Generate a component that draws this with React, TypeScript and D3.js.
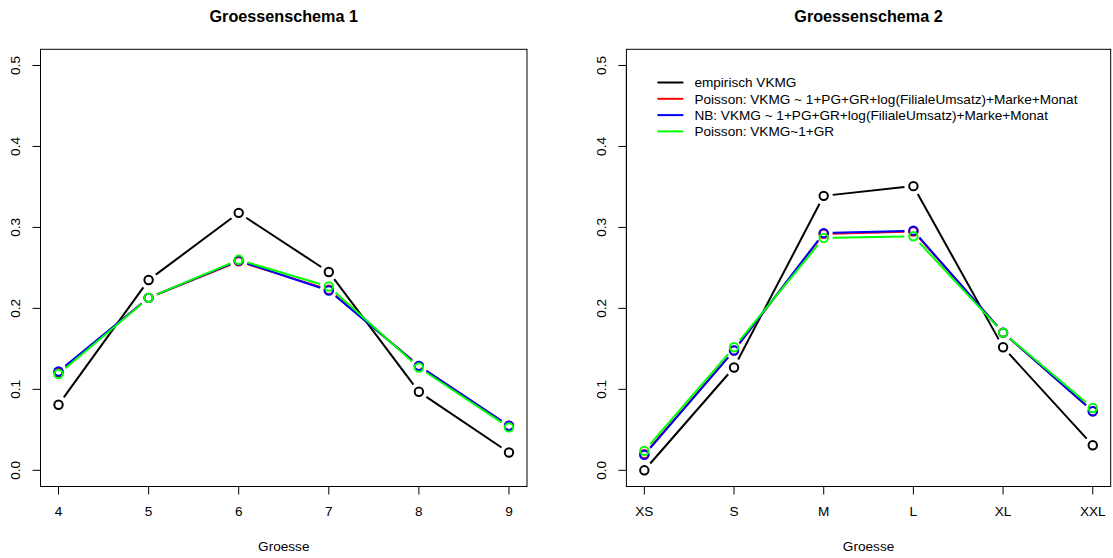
import { useEffect, useRef } from 'react';
import * as d3 from 'd3';

// Groessenschema 1
const sizes1 = ['4', '5', '6', '7', '8', '9'];
const empirisch1 = [0.081, 0.235, 0.318, 0.245, 0.097, 0.022];
const poisson1 = [0.121, 0.213, 0.258, 0.223, 0.129, 0.055];
const nb1 = [0.122, 0.213, 0.259, 0.222, 0.129, 0.055];
const poissonGR1 = [0.119, 0.213, 0.260, 0.227, 0.127, 0.053];

// Groessenschema 2
const sizes2 = ['XS', 'S', 'M', 'L', 'XL', 'XXL'];
const empirisch2 = [0.0, 0.127, 0.339, 0.351, 0.152, 0.031];
const poisson2 = [0.020, 0.148, 0.292, 0.295, 0.170, 0.073];
const nb2 = [0.019, 0.148, 0.293, 0.296, 0.170, 0.073];
const poissonGR2 = [0.024, 0.152, 0.287, 0.289, 0.170, 0.077];

const seriesNames = [
  'empirisch VKMG',
  'Poisson: VKMG ~ 1+PG+GR+log(FilialeUmsatz)+Marke+Monat',
  'NB: VKMG ~ 1+PG+GR+log(FilialeUmsatz)+Marke+Monat',
  'Poisson: VKMG~1+GR',
];
const seriesColors = ['#000000', '#ff0000', '#0000ff', '#00ff00'];
const yTicks = [0, 0.1, 0.2, 0.3, 0.4, 0.5];

const W = 1113, H = 558;
const FONT = '"Liberation Sans", Arial, Helvetica, sans-serif';
const FS = 13.6;

function drawPanel(svg, opts) {
  const { title, cats, series, left, right, legend } = opts;
  const top = 49.3, bottom = 486.5;
  const n = cats.length;

  const x = d3.scaleLinear().domain([1 - 0.2, n + 0.2]).range([left, right]);
  const y = d3.scaleLinear().domain([-0.02, 0.52]).range([bottom, top]);

  const g = svg.append('g');

  g.append('text')
    .attr('x', (left + right) / 2)
    .attr('y', 21.7)
    .attr('text-anchor', 'middle')
    .attr('font-family', FONT)
    .attr('font-weight', 'bold')
    .attr('font-size', 16.2)
    .text(title);

  // series drawn as type="b": points with gapped segments
  const gap = 9;
  series.forEach((vals, si) => {
    const col = seriesColors[si];
    const pts = vals.map((v, i) => [x(i + 1), y(v)]);
    for (let i = 0; i < pts.length - 1; i++) {
      const [x0, y0] = pts[i];
      const [x1, y1] = pts[i + 1];
      const len = Math.hypot(x1 - x0, y1 - y0);
      const ux = (x1 - x0) / len, uy = (y1 - y0) / len;
      g.append('line')
        .attr('x1', x0 + ux * gap).attr('y1', y0 + uy * gap)
        .attr('x2', x1 - ux * gap).attr('y2', y1 - uy * gap)
        .attr('stroke', col).attr('stroke-width', 2);
    }
    g.selectAll(null).data(pts).enter().append('circle')
      .attr('cx', d => d[0]).attr('cy', d => d[1]).attr('r', 4.2)
      .attr('fill', 'none').attr('stroke', col).attr('stroke-width', 2);
  });

  g.append('rect')
    .attr('x', left).attr('y', top)
    .attr('width', right - left).attr('height', bottom - top)
    .attr('fill', 'none').attr('stroke', '#000').attr('stroke-width', 1);

  // x axis
  const xa = g.append('g');
  xa.append('line')
    .attr('x1', x(1)).attr('x2', x(n)).attr('y1', bottom).attr('y2', bottom)
    .attr('stroke', '#000');
  cats.forEach((c, i) => {
    xa.append('line')
      .attr('x1', x(i + 1)).attr('x2', x(i + 1))
      .attr('y1', bottom).attr('y2', bottom + 8)
      .attr('stroke', '#000');
    xa.append('text')
      .attr('x', x(i + 1)).attr('y', bottom + 29.5)
      .attr('text-anchor', 'middle')
      .attr('font-family', FONT).attr('font-size', FS)
      .text(c);
  });
  g.append('text')
    .attr('x', (left + right) / 2).attr('y', 550.5)
    .attr('text-anchor', 'middle')
    .attr('font-family', FONT).attr('font-size', FS)
    .text('Groesse');

  // y axis
  const ya = g.append('g');
  ya.append('line')
    .attr('x1', left).attr('x2', left).attr('y1', y(0)).attr('y2', y(0.5))
    .attr('stroke', '#000');
  yTicks.forEach(t => {
    ya.append('line')
      .attr('x1', left - 8).attr('x2', left)
      .attr('y1', y(t)).attr('y2', y(t))
      .attr('stroke', '#000');
    ya.append('text')
      .attr('transform', `translate(${left - 20.5},${y(t)}) rotate(-90)`)
      .attr('text-anchor', 'middle')
      .attr('font-family', FONT).attr('font-size', FS)
      .text(t.toFixed(1));
  });

  if (legend) {
    const lx = left + 31, ly = 82.5, step = 16.3;
    seriesNames.forEach((name, i) => {
      g.append('line')
        .attr('x1', lx).attr('x2', lx + 26)
        .attr('y1', ly + i * step).attr('y2', ly + i * step)
        .attr('stroke', seriesColors[i]).attr('stroke-width', 2);
      g.append('text')
        .attr('x', lx + 37).attr('y', ly + i * step + 4.7)
        .attr('font-family', FONT).attr('font-size', FS)
        .text(name);
    });
  }
}

const App = () => {
  const svgRef = useRef(null);

  useEffect(() => {
    document.body.style.margin = '0';
    const svg = d3.select(svgRef.current);
    svg.selectAll('*').remove();
    svg.append('rect').attr('width', W).attr('height', H).attr('fill', '#fff');

    drawPanel(svg, {
      title: 'Groessenschema 1',
      cats: sizes1,
      series: [empirisch1, poisson1, nb1, poissonGR1],
      left: 40.5, right: 527, legend: false,
    });
    drawPanel(svg, {
      title: 'Groessenschema 2',
      cats: sizes2,
      series: [empirisch2, poisson2, nb2, poissonGR2],
      left: 626.4, right: 1110.7, legend: true,
    });
  }, []);

  return <svg ref={svgRef} width={W} height={H} style={{ display: 'block' }}></svg>;
};

export default App;
